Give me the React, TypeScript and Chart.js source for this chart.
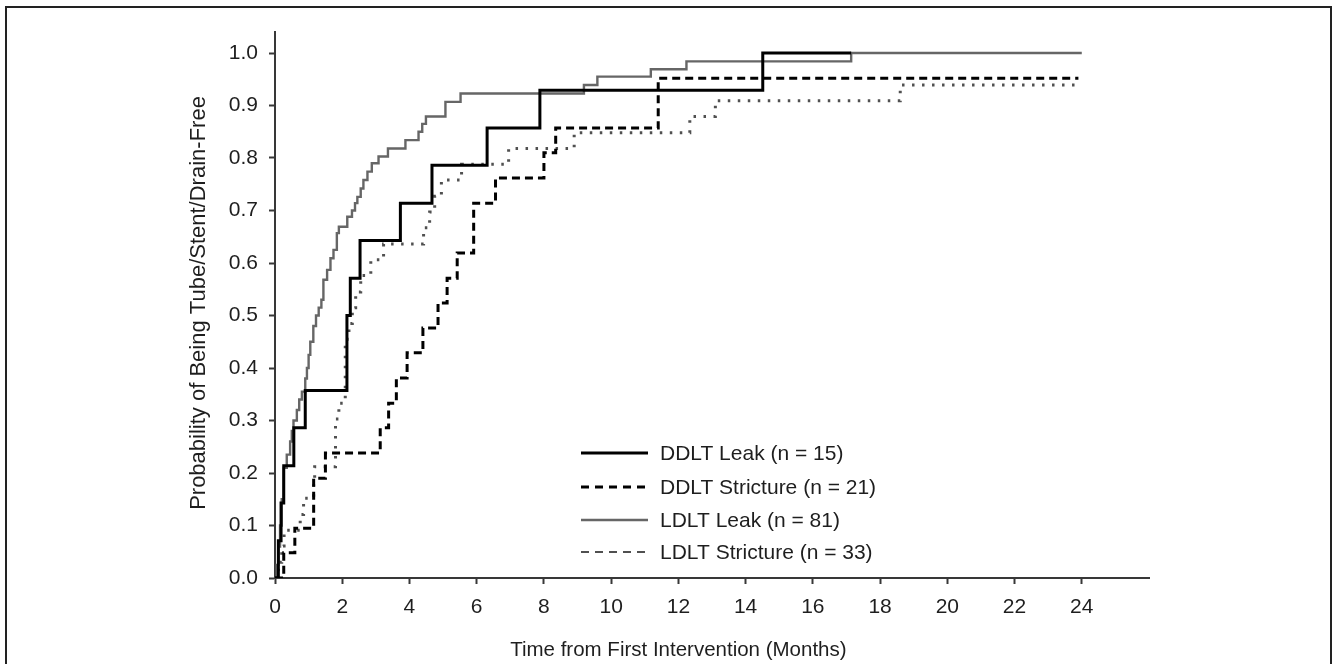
import React, { useEffect, useRef } from "react";
import { Chart, registerables } from "chart.js";

Chart.register(...registerables);

// ---- Data ----
const seriesNames = [
  "DDLT Leak (n = 15)",
  "DDLT Stricture (n = 21)",
  "LDLT Leak (n = 81)",
  "LDLT Stricture (n = 33)",
];

const ddltLeakT = [0, 0.1, 0.18, 0.26, 0.56, 0.9, 2.14, 2.24, 2.53, 3.73, 4.67, 6.31, 7.88, 14.51, 17.14];
const ddltLeakP = [0, 0.071, 0.143, 0.214, 0.286, 0.357, 0.5, 0.571, 0.643, 0.714, 0.786, 0.857, 0.929, 1.0, 1.0];

const ddltStrictT = [0, 0.26, 0.59, 1.15, 1.5, 3.13, 3.38, 3.61, 3.93, 4.4, 4.85, 5.12, 5.42, 5.91, 6.56, 8.0, 8.35, 11.4, 23.9];
const ddltStrictP = [0, 0.048, 0.095, 0.19, 0.238, 0.286, 0.333, 0.381, 0.429, 0.476, 0.524, 0.571, 0.619, 0.714, 0.762, 0.81, 0.857, 0.952, 0.952];

const ldltLeakT = [0, 0.05, 0.1, 0.15, 0.2, 0.26, 0.35, 0.45, 0.5, 0.55, 0.65, 0.72, 0.8, 0.9, 0.95, 1.0, 1.05, 1.14, 1.22, 1.3, 1.38, 1.44, 1.55, 1.65, 1.74, 1.84, 1.9, 2.15, 2.29, 2.38, 2.45, 2.55, 2.63, 2.75, 2.88, 3.08, 3.36, 3.88, 4.27, 4.38, 4.49, 5.07, 5.52, 9.19, 9.59, 11.18, 12.24, 17.14, 24.0];
const ldltLeakP = [0, 0.025, 0.06, 0.1, 0.15, 0.21, 0.235, 0.26, 0.28, 0.3, 0.32, 0.34, 0.355, 0.38, 0.4, 0.425, 0.45, 0.48, 0.5, 0.515, 0.53, 0.568, 0.587, 0.609, 0.625, 0.657, 0.669, 0.688, 0.7, 0.714, 0.726, 0.742, 0.758, 0.774, 0.79, 0.803, 0.818, 0.834, 0.85, 0.865, 0.879, 0.907, 0.923, 0.939, 0.955, 0.969, 0.984, 1.0, 1.0];

const ldltStrictT = [0, 0.1, 0.2, 0.27, 0.75, 0.85, 1.15, 1.18, 1.8, 1.9, 2.09, 2.2, 2.3, 2.4, 2.55, 2.85, 3.23, 4.42, 4.6, 4.75, 4.95, 5.55, 6.95, 8.9, 12.34, 13.1, 18.6, 23.95];
const ldltStrictP = [0, 0.03, 0.061, 0.091, 0.121, 0.152, 0.182, 0.212, 0.303, 0.333, 0.455, 0.485, 0.515, 0.545, 0.576, 0.606, 0.636, 0.667, 0.697, 0.727, 0.758, 0.788, 0.818, 0.848, 0.879, 0.909, 0.939, 0.939];

const xTickValues = [0, 2, 4, 6, 8, 10, 12, 14, 16, 18, 20, 22, 24];
const yTickValues = [0, 0.1, 0.2, 0.3, 0.4, 0.5, 0.6, 0.7, 0.8, 0.9, 1.0];

const xTitle = "Time from First Intervention (Months)";
const yTitle = "Probability of Being Tube/Stent/Drain-Free";

// ---- Styles ----
const FONT = '"Liberation Sans", Arial, sans-serif';
const TEXT = "#1e1e1e";
const AXIS = "#383838";

const seriesStyles = [
  { color: "#000000", width: 3, dash: [] as number[], legendWidth: 3, legendDash: [] as number[] },
  { color: "#000000", width: 3, dash: [8, 5], legendWidth: 3, legendDash: [8, 6] },
  { color: "#666666", width: 2.4, dash: [] as number[], legendWidth: 2.4, legendDash: [] as number[] },
  { color: "#505050", width: 3, dash: [2.5, 7.5], legendWidth: 2, legendDash: [8, 6] },
];

const toPoints = (t: number[], p: number[]) => t.map((x, i) => ({ x, y: p[i] }));

const decorPlugin = {
  id: "decor",
  beforeDraw(chart: any) {
    const ctx = chart.ctx;
    ctx.save();
    ctx.fillStyle = "#ffffff";
    ctx.fillRect(0, 0, chart.width, chart.height);
    ctx.restore();
  },
  afterDraw(chart: any) {
    const ctx = chart.ctx;
    const xs = chart.scales.x;
    ctx.save();
    // frame
    ctx.strokeStyle = "#222222";
    ctx.lineWidth = 2;
    ctx.beginPath();
    ctx.moveTo(6, 700);
    ctx.lineTo(6, 7);
    ctx.lineTo(1331, 7);
    ctx.lineTo(1331, 700);
    ctx.stroke();

    // axis titles
    ctx.fillStyle = TEXT;
    ctx.textAlign = "center";
    ctx.textBaseline = "middle";
    ctx.font = `20.5px ${FONT}`;
    ctx.fillText(xTitle, xs.getPixelForValue(12), 650);
    ctx.save();
    ctx.font = `22px ${FONT}`;
    ctx.translate(199, 303);
    ctx.rotate(-Math.PI / 2);
    ctx.fillText(yTitle, 0, 0);
    ctx.restore();

    // legend
    ctx.font = `21px ${FONT}`;
    const rowsY = [453, 487, 520, 552];
    seriesNames.forEach((name, i) => {
      const st = seriesStyles[i];
      const y = rowsY[i];
      ctx.beginPath();
      ctx.strokeStyle = st.color;
      ctx.lineWidth = st.legendWidth;
      ctx.setLineDash(st.legendDash);
      ctx.lineCap = "butt";
      ctx.moveTo(581, y);
      ctx.lineTo(648, y);
      ctx.stroke();
      ctx.setLineDash([]);
      ctx.fillStyle = TEXT;
      ctx.textAlign = "left";
      ctx.textBaseline = "middle";
      ctx.fillText(name, 660, y + 1);
    });
    ctx.restore();
  },
};

export default function App() {
  const ref = useRef<HTMLCanvasElement | null>(null);

  useEffect(() => {
    if (!ref.current) return;
    const series = [
      toPoints(ddltLeakT, ddltLeakP),
      toPoints(ddltStrictT, ddltStrictP),
      toPoints(ldltLeakT, ldltLeakP),
      toPoints(ldltStrictT, ldltStrictP),
    ];
    const chart = new Chart(ref.current, {
      type: "line",
      data: {
        datasets: series.map((d, i) => ({
          label: seriesNames[i],
          data: d,
          borderColor: seriesStyles[i].color,
          borderWidth: seriesStyles[i].width,
          borderDash: seriesStyles[i].dash,
          borderJoinStyle: "miter" as const,
          borderCapStyle: "butt" as const,
          stepped: "before" as const,
          pointRadius: 0,
          fill: false,
        })),
      },
      options: {
        responsive: false,
        animation: false,
        events: [],
        layout: { padding: { left: 0, top: 32, right: 183, bottom: 0 } },
        plugins: {
          legend: { display: false },
          tooltip: { enabled: false },
          title: { display: false },
        },
        scales: {
          x: {
            type: "linear",
            min: 0,
            max: 26,
            afterBuildTicks: (scale: any) => {
              scale.ticks = xTickValues.map((v) => ({ value: v }));
            },
            afterFit: (scale: any) => {
              scale.height = 86;
            },
            ticks: {
              autoSkip: false,
              maxRotation: 0,
              padding: 11,
              color: TEXT,
              font: { family: FONT, size: 21 },
              callback: (v: any) => String(v),
            },
            grid: {
              drawOnChartArea: false,
              drawTicks: true,
              tickLength: 6,
              tickWidth: 2,
              tickColor: AXIS,
            },
            border: { display: true, color: AXIS, width: 2 },
          },
          y: {
            type: "linear",
            min: 0,
            max: 1.04,
            afterBuildTicks: (scale: any) => {
              scale.ticks = yTickValues.map((v) => ({ value: v }));
            },
            afterFit: (scale: any) => {
              scale.width = 275;
            },
            ticks: {
              autoSkip: false,
              padding: 11,
              color: TEXT,
              font: { family: FONT, size: 21 },
              callback: (v: any) => Number(v).toFixed(1),
            },
            grid: {
              drawOnChartArea: false,
              drawTicks: true,
              tickLength: 6,
              tickWidth: 2,
              tickColor: AXIS,
            },
            border: { display: true, color: AXIS, width: 2 },
          },
        },
      },
      plugins: [decorPlugin],
    });
    return () => chart.destroy();
  }, []);

  return (
    <div style={{ position: "fixed", left: 0, top: 0, width: 1332, height: 664, overflow: "hidden", background: "#fff" }}>
      <canvas ref={ref} width={1332} height={664} style={{ display: "block" }} />
    </div>
  );
}
